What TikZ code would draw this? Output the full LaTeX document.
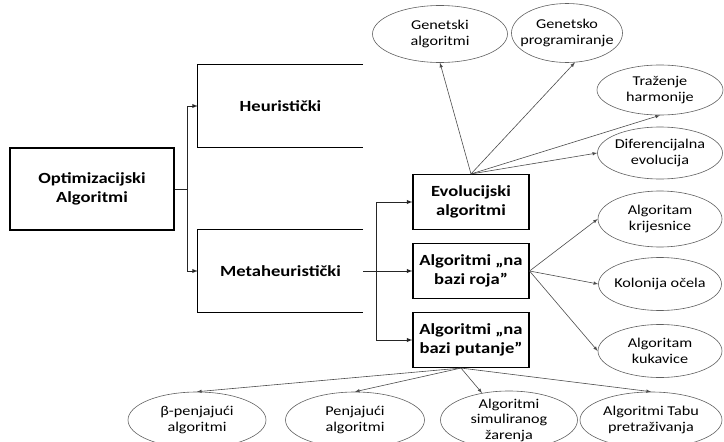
\documentclass[tikz,border=0pt]{standalone}
\usepackage{fontspec}
\setmainfont{Carlito}[FakeStretch=1.2]
\usetikzlibrary{shapes.geometric}
\begin{document}
\begin{tikzpicture}[x=1pt, y=-1pt, >=latex, every node/.style={font=\fontsize{13.5}{15.5}\selectfont}]
  \tikzstyle{grp}=[minimum width=165pt,minimum height=82pt,align=center,inner sep=0pt,font=\fontsize{15.5}{18.5}\selectfont\bfseries]
  \tikzstyle{cls}=[draw,line width=1.1pt,minimum width=116pt,minimum height=55pt,align=center,inner sep=0pt,font=\fontsize{15.5}{18.5}\selectfont\bfseries]
  \tikzstyle{alg}=[ellipse,draw=gray!75!black,line width=0.6pt,inner sep=-30pt,align=center]
  \tikzstyle{link}=[->,line width=0.6pt,gray!60!black]
  \tikzstyle{tree}=[->,line width=0.9pt,black!85]
  \useasboundingbox (0,0) rectangle (724,442);
  \node[grp,draw,line width=1.1pt,minimum width=164pt] (opt) at (92,189) {Optimizacijski\\Algoritmi};
  \node[grp] (heur) at (280.5,106) {Heuristički};
  \node[grp] (meta) at (280.5,271) {Metaheuristički};
  \draw[line width=1.1pt] (heur.north east) -- (heur.north west) -- (heur.south west) -- (heur.south east);
  \draw[line width=1.1pt] (meta.north east) -- (meta.north west) -- (meta.south west) -- (meta.south east);
  \node[cls] (evo) at (471,202) {Evolucijski\\algoritmi};
  \node[cls] (roja) at (471,271) {Algoritmi „na\\bazi roja”};
  \node[cls] (put) at (471,340) {Algoritmi „na\\bazi putanje”};
  \node[alg,minimum width=135pt,minimum height=57pt] (ga) at (440,34) {Genetski\\algoritmi};
  \node[alg,minimum width=111pt,minimum height=59pt] (gp) at (567,33) {Genetsko\\programiranje};
  \node[alg,minimum width=126pt,minimum height=50pt] (th) at (660,90) {Traženje\\harmonije};
  \node[alg,minimum width=125pt,minimum height=52pt] (de) at (660,153) {Diferencijalna\\evolucija};
  \node[alg,minimum width=124pt,minimum height=56pt] (kr) at (660,219) {Algoritam\\krijesnice};
  \node[alg,minimum width=123pt,minimum height=53pt] (ko) at (660,284) {Kolonija očela};
  \node[alg,minimum width=124pt,minimum height=53pt] (ku) at (660,351) {Algoritam\\kukavice};
  \node[alg,minimum width=138pt,minimum height=56pt] (bp) at (197,420) {β-penjajući\\algoritmi};
  \node[alg,minimum width=139pt,minimum height=56pt] (pa) at (355,420) {Penjajući\\algoritmi};
  \node[alg,minimum width=137pt,minimum height=58pt] (sz) at (509,420) {Algoritmi\\simuliranog\\žarenja};
  \node[alg,minimum width=142pt,minimum height=56pt] (tp) at (651,420) {Algoritmi Tabu\\pretraživanja};
  \coordinate (mj) at ([xshift=13pt]meta.east);
  \coordinate (pb) at ([xshift=-10pt]put.south);
  \draw[tree] (opt.east) -- ++(13,0) |- (heur.west);
  \draw[tree] (opt.east) -- ++(13,0) |- (meta.west);
  \draw[tree] (meta.east) -- (roja.west);
  \draw[tree] (mj) |- (evo.west);
  \draw[tree] (mj) |- (put.west);
  \draw[link] (evo.north) -- (ga.south);
  \draw[link] (evo.north) -- (gp.-75);
  \draw[link] (evo.north) -- (th.south);
  \draw[link] (evo.north) -- (de.west);
  \draw[link] (roja.east) -- (kr.west);
  \draw[link] (roja.east) -- (ko.west);
  \draw[link] (roja.east) -- (ku.west);
  \draw[link] (pb) -- (bp.north);
  \draw[link] (pb) -- (pa.north);
  \draw[link] (pb) -- (sz.135);
  \draw[link] (pb) -- (tp.north);
\end{tikzpicture}
\end{document}
